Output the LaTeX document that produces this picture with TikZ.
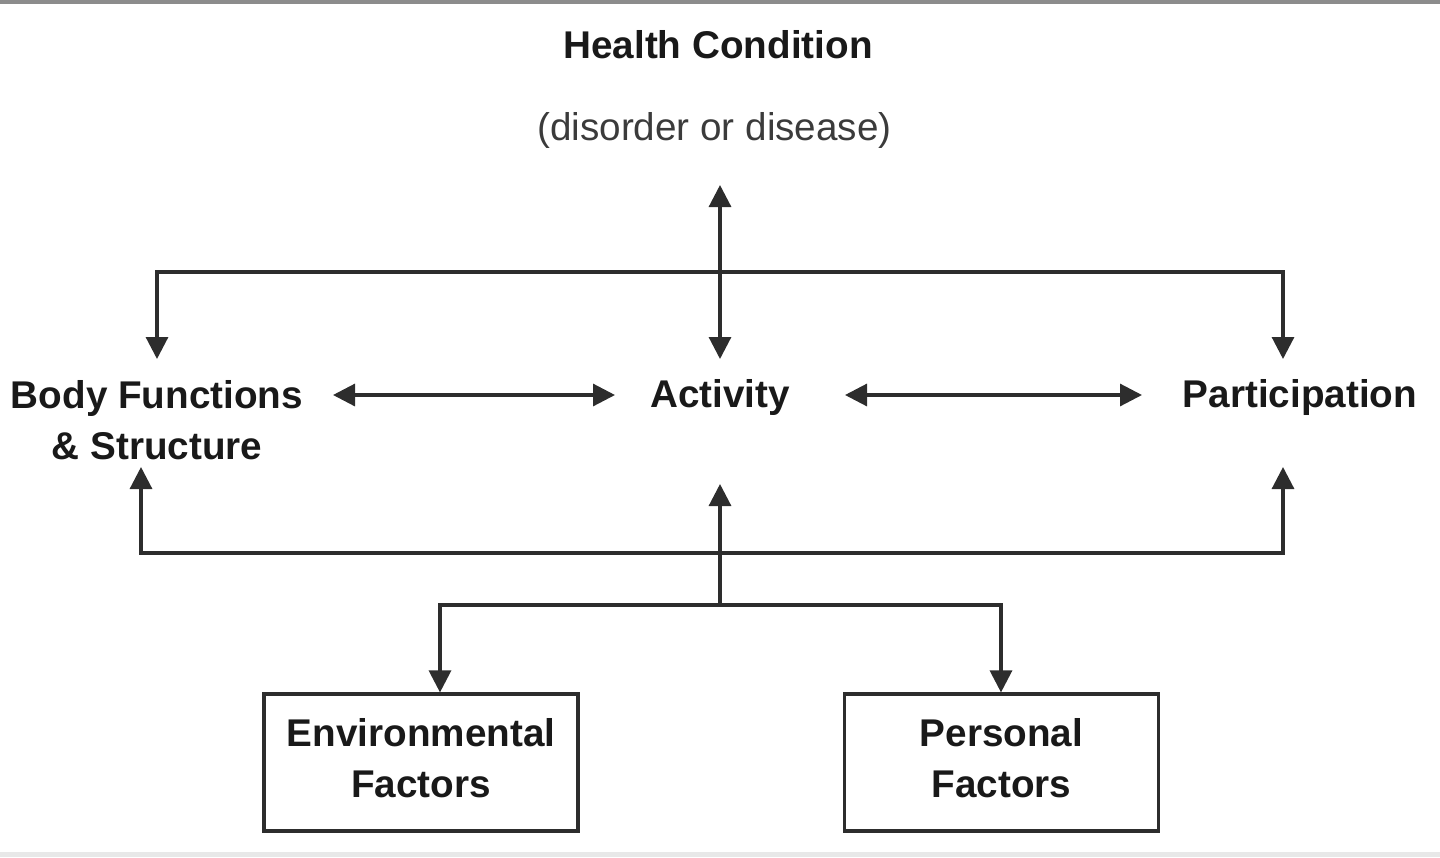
\documentclass[tikz,border=0pt]{standalone}
\usepackage{fontspec}
\setmainfont{Liberation Sans}
\usetikzlibrary{arrows.meta}
\definecolor{icfline}{RGB}{45,45,45}
\definecolor{icftext}{RGB}{25,25,25}
\definecolor{topband}{RGB}{140,140,140}
\definecolor{bottomband}{RGB}{232,232,232}

\begin{document}
\begin{tikzpicture}[
        label/.style={text=icftext, font=\fontsize{11}{14.5}\selectfont\bfseries, align=center, inner sep=0pt},
        note/.style={text=icftext!85, font=\fontsize{11}{14.5}\selectfont, inner sep=0pt},
        factor/.style={label, draw=icfline, line width=0.9pt, minimum width=3.14cm, minimum height=1.37cm, text depth=0.1cm},
        link/.style={draw=icfline, line width=0.9pt, {Triangle[length=0.22cm,width=0.22cm]}-{Triangle[length=0.22cm,width=0.22cm]}},
        uplink/.style={draw=icfline, line width=0.9pt, -{Triangle[length=0.22cm,width=0.22cm]}}
    ]
    \useasboundingbox (0, 0) rectangle (14.4, -8.57);
    \fill[topband] (0, 0) rectangle (14.4, -0.04);
    \fill[bottomband] (0, -8.52) rectangle (14.4, -8.57);

    % text
    \node[label] (health) at (7.18, -0.45) {Health Condition};
    \node[note] (disorder) at (7.145, -1.30) {(disorder or disease)};
    \node[label] (body) at (1.57, -4.205) {Body Functions\\\& Structure};
    \node[label] (activity) at (7.2, -3.97) {Activity};
    \node[label] (particip) at (13.0, -3.97) {Participation};
    \node[factor] (env) at (4.21, -7.625) {Environmental\\Factors};
    \node[factor] (pers) at (10.015, -7.625) {Personal\\Factors};

    % arrow ends
    \coordinate (hcEnd) at (7.2, -1.85);
    \coordinate (actTop) at (7.2, -3.59);
    \coordinate (actBot) at (7.2, -4.84);
    \coordinate (actLeft) at (6.15, -3.95);
    \coordinate (actRight) at (8.45, -3.95);
    \coordinate (bodyTop) at (1.57, -3.59);
    \coordinate (bodyBot) at (1.41, -4.67);
    \coordinate (bodyRight) at (3.33, -3.95);
    \coordinate (partTop) at (12.83, -3.59);
    \coordinate (partBot) at (12.83, -4.67);
    \coordinate (partLeft) at (11.42, -3.95);
    \coordinate (split) at (7.2, -6.05);

    \draw[link] (hcEnd) -- (actTop);
    \draw[link] (bodyTop) |- (7.2, -2.72) -| (partTop);
    \draw[link] (bodyRight) -- (actLeft);
    \draw[link] (actRight) -- (partLeft);
    \draw[link] (bodyBot) |- (7.2, -5.53) -| (partBot);
    \draw[uplink] (split) -- (actBot);
    \draw[link] ([xshift=0.19cm]env.north) |- (split) -| ([xshift=-0.005cm]pers.north);
\end{tikzpicture}
\end{document}
